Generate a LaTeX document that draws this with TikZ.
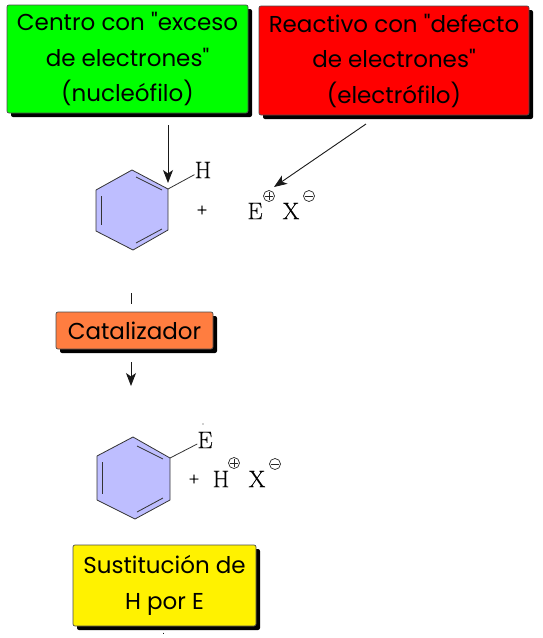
\documentclass[tikz,border=0pt]{standalone}
\usepackage{fontspec}
\newfontfamily\comic{Poppins}
\newfontfamily\atomf{Latin Modern Roman}[FakeBold=0.4]
\usetikzlibrary{shadows,arrows.meta}
\definecolor{ringblue}{RGB}{190,190,255}
\definecolor{boxorange}{RGB}{255,125,64}
\tikzset{
  x=1pt,y=-1pt,
  box/.style={draw=black!70,line width=0.7pt,rounded corners=2pt,inner sep=0pt,align=center,
    text=black,font=\comic\fontsize{23}{35.5}\selectfont,
    general shadow={fill=black,shadow xshift=4pt,shadow yshift=-4pt}},
  ring/.style={draw=black!80,fill=ringblue,line width=0.8pt,line join=round},
  inner/.style={draw=black!80,line width=0.8pt},
  bond/.style={draw=black!80,line width=0.8pt},
  conn/.style={draw=black!90,line width=0.9pt,-{Stealth[length=13pt,width=10pt,inset=3.5pt]}},
  plain/.style={draw=black!90,line width=0.9pt},
  atom/.style={inner sep=0pt,font=\atomf\fontsize{24}{24}\selectfont},
  charge/.style={inner sep=0pt},
  plus/.style={inner sep=0pt,font=\atomf\fontsize{14}{14}\selectfont},
}
\newcommand{\chgsym}[1]{\tikz[baseline=-0.5ex,x=1pt,y=-1pt]{\draw[line width=0.7pt,black!85] (0,0) circle (5.5pt);
  \draw[line width=0.7pt,black!85] (-4,0)--(4,0);
  \ifnum#1=1 \draw[line width=0.7pt,black!85] (0,-4)--(0,4);\fi}}
\begin{document}
\begin{tikzpicture}
\useasboundingbox (0,0) rectangle (542,638);
% boxes
\node[box,fill=green,minimum width=241pt,minimum height=108pt] (nuc) at (127.5,59) {Centro con "exceso\\de electrones"\\(nucleófilo)};
\node[box,fill=red,minimum width=270pt,minimum height=109pt] (ele) at (394,60.5) {Reactivo con "defecto\\de electrones"\\(electrófilo)};
\node[box,fill=boxorange,minimum width=157pt,minimum height=37pt] (cat) at (134.5,330.5) {Catalizador};
\node[box,fill=yellow,minimum width=183pt,minimum height=81pt] (sus) at (164.5,585.5) {Sustitución de\\H por E};
% first benzene
\coordinate (a1) at (132,170);\coordinate (a2) at (168,189);\coordinate (a3) at (168,230);
\coordinate (a4) at (133,250);\coordinate (a5) at (96,231);\coordinate (a6) at (96,190);
\draw[ring] (a1)--(a2)--(a3)--(a4)--(a5)--(a6)--cycle;
\draw[inner] (136,177)--(162,190);
\draw[inner] (101,196)--(101,225);
\draw[inner] (136,243)--(162,229);
\node[atom] (h1) at (203,170) {H};
\draw[bond] (a2)--(h1);
\node[plus] (p1) at (202,210) {+};
\node[atom] (e1) at (255,211) {E};
\node[charge] (c1) at (269,196) {\chgsym{1}};
\node[atom] (x1) at (291,211) {X};
\node[charge] (c2) at (309,196) {\chgsym{0}};
% second benzene
\coordinate (b1) at (133,437);\coordinate (b2) at (170,458);\coordinate (b3) at (170,500);
\coordinate (b4) at (135,519);\coordinate (b5) at (97,500);\coordinate (b6) at (97,456);
\draw[ring] (b1)--(b2)--(b3)--(b4)--(b5)--(b6)--cycle;
\draw[inner] (137,446)--(163,459);
\draw[inner] (102,462)--(102,494);
\draw[inner] (137,512)--(163,498);
\node[atom] (e2) at (205,440) {E};
\draw[bond] (b2)--(e2);
\fill[black!80] (203,424) circle (0.7pt);
\node[plus] (p2) at (194,479) {+};
\node[atom] (h2) at (221,479) {H};
\node[charge] (c3) at (234,463) {\chgsym{1}};
\node[atom] (x2) at (257,479) {X};
\node[charge] (c4) at (275,464) {\chgsym{0}};
% connectors
\coordinate (s1) at (168,125);\coordinate (t1) at (168,183);
\draw[conn] (s1)--(t1);
\coordinate (s2) at (366,124);\coordinate (t2) at (274,187);
\draw[conn] (s2)--(t2);
\coordinate (s3) at (131,293);\coordinate (t3) at (131,304);
\draw[plain] (s3)--(t3);
\coordinate (s4) at (131,362);\coordinate (t4) at (131,386);
\draw[conn] (s4)--(t4);
\coordinate (s5) at (163,632.5);\coordinate (t5) at (163,634);
\draw[plain] (s5)--(t5);
\end{tikzpicture}
\end{document}
